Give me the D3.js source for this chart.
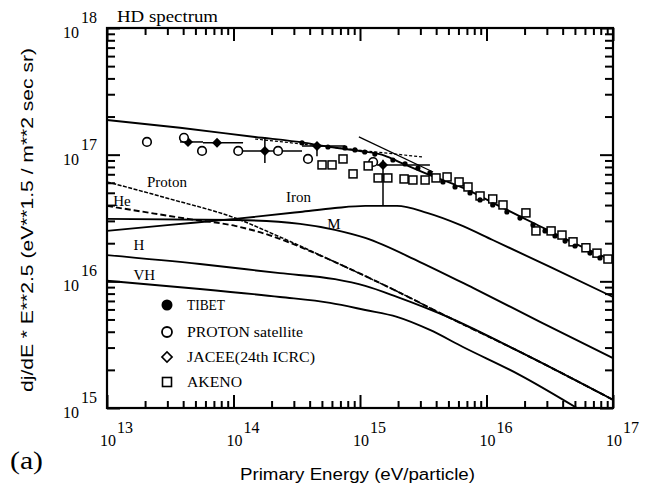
<!DOCTYPE html>
<html><head><meta charset="utf-8">
<script src="https://cdn.jsdelivr.net/npm/d3@7"></script>
<style>body{margin:0;background:#fff}svg{display:block}</style>
</head><body>
<svg id="c" width="656" height="493" xmlns="http://www.w3.org/2000/svg"></svg>
<script>
// ---------- data ----------
const xMajor = [1e13, 1e14, 1e15, 1e16, 1e17];
const xMajorExp = ["13", "14", "15", "16", "17"];
const yMajor = [1e15, 1e16, 1e17, 1e18];
const yMajorExp = ["15", "16", "17", "18"];

const totalE = [1e13, 3.78e13, 1.48e14, 3.67e14, 5.8e14, 1e15, 1.58e15, 2.07e15, 3.57e15, 7.0e15, 1.28e16, 2.33e16, 4.57e16, 1e17];
const totalJ = [1.88e17, 1.63e17, 1.38e17, 1.24e17, 1.15e17, 1.07e17, 9.8e16, 8.7e16, 6.9e16, 5.3e16, 3.9e16, 2.9e16, 2.08e16, 1.45e16];

const protonE = [1e13, 3.15e13, 1.03e14, 2.33e14, 6.34e14, 1.73e15, 5.14e15, 1.84e16, 1e17];
const protonJ = [6.1e16, 4.47e16, 3.16e16, 2.24e16, 1.42e16, 8.87e15, 5.14e15, 2.77e15, 1.16e15];

const heE = [1e13, 2.19e13, 4.37e13, 1.03e14, 2.01e14, 3.36e14, 6.34e14, 1.73e15, 5.14e15, 1.84e16, 1e17];
const heJ = [3.94e16, 3.47e16, 3.11e16, 2.74e16, 2.28e16, 1.87e16, 1.42e16, 8.87e15, 5.14e15, 2.77e15, 1.16e15];

const mE = [1e13, 1.03e14, 3.36e14, 6.34e14, 1.10e15, 2.98e15, 7.82e15, 2.65e16, 1e17];
const mJ = [3.11e16, 3.05e16, 2.84e16, 2.55e16, 2.20e16, 1.42e16, 8.87e15, 4.79e15, 2.48e15];

const ironE = [1e13, 3.15e13, 1.03e14, 3.36e14, 6.34e14, 1.10e15, 1.96e15, 3.39e15, 6.18e15, 1.12e16, 3.18e16, 1e17];
const ironJ = [2.50e16, 2.79e16, 3.11e16, 3.53e16, 3.79e16, 3.94e16, 3.94e16, 3.47e16, 2.79e16, 2.12e16, 1.30e16, 7.53e15];

const hE = [1e13, 5.43e13, 2.33e14, 6.34e14, 1.10e15, 1.96e15, 5.14e15, 1.84e16, 1e17];
const hJ = [1.61e16, 1.37e16, 1.16e16, 1.04e16, 9.2e15, 7.53e15, 5.14e15, 2.77e15, 1.16e15];

const vhE = [1e13, 5.43e13, 2.33e14, 5.8e14, 1.10e15, 1.96e15, 3.57e15, 6.52e15, 1.84e16, 5.19e16];
const vhJ = [1.01e16, 8.71e15, 7.53e15, 6.76e15, 5.94e15, 5.24e15, 4.13e15, 3.03e15, 1.82e15, 1.0e15];

const fitSteepE = [9.8e14, 3.78e15];
const fitSteepJ = [1.38e17, 7.3e16];
const fitFlatE = [1.48e14, 3.09e15];
const fitFlatJ = [1.33e17, 9.6e16];

// filled diamonds with energy bins
const jaceeE   = [4.37e13, 7.41e13, 1.77e14, 4.57e14, 1.52e15];
const jaceeJ   = [1.26e17, 1.24e17, 1.07e17, 1.17e17, 8.3e16];
const jaceeElo = [3.78e13, 5.74e13, 1.09e14, 3.48e14, 1.36e15];
const jaceeEhi = [5.74e13, 1.19e14, 3.48e14, 7.60e14, 3.57e15];
const jaceeJlo = [null, null, 8.6e16, 9.7e16, 3.94e16];
const jaceeJhi = [null, null, 1.38e17, 1.26e17, 9.1e16];

const protonSatE = [2.07e13, 4.06e13, 5.64e13, 1.09e14, 2.25e14, 3.88e14, 1.27e15];
const protonSatJ = [1.26e17, 1.36e17, 1.07e17, 1.07e17, 1.07e17, 9.25e16, 8.75e16];

const akenoE = [5.01e14, 6.01e14, 7.34e14, 8.81e14, 1.16e15, 1.39e15, 1.66e15, 2.23e15, 2.62e15, 3.27e15, 3.99e15, 4.88e15, 6.07e15, 7.14e15, 8.89e15, 1.12e16, 1.35e16, 2.05e16, 2.46e16, 3.24e16, 3.95e16, 4.83e16, 6.11e16, 7.47e16, 9.12e16];
const akenoJ = [8.30e16, 8.30e16, 9.25e16, 7.05e16, 8.15e16, 6.55e16, 6.55e16, 6.43e16, 6.31e16, 6.31e16, 6.55e16, 6.67e16, 6.09e16, 5.56e16, 4.72e16, 4.47e16, 4.01e16, 3.47e16, 2.50e16, 2.50e16, 2.32e16, 2.05e16, 1.84e16, 1.67e16, 1.50e16];

const tibetE = [3.48e14, 5.58e14, 7.60e14, 9.12e14, 1.09e15, 1.31e15, 1.82e15, 2.27e15, 2.87e15, 3.57e15, 4.53e15, 5.64e15, 7.41e15, 8.89e15, 1.12e16, 1.45e16, 1.84e16, 2.33e16, 2.90e16, 3.48e16, 4.18e16, 5.01e16, 6.58e16, 7.89e16];
const tibetJ = [1.24e17, 1.15e17, 1.13e17, 1.09e17, 1.05e17, 1.01e17, 9.08e16, 8.45e16, 7.85e16, 7.18e16, 6.09e16, 5.56e16, 4.99e16, 4.39e16, 4.01e16, 3.53e16, 3.16e16, 2.79e16, 2.50e16, 2.28e16, 2.08e16, 1.90e16, 1.67e16, 1.53e16];

const legendLabels = ["TIBET", "PROTON satellite", "JACEE(24th ICRC)", "AKENO"];
const curveLabels = [
  {t: "Proton", E: 2.07e13, J: 5.55e16},
  {t: "He", E: 1.12e13, J: 3.94e16},
  {t: "Iron", E: 2.6e14, J: 4.2e16},
  {t: "M", E: 5.5e14, J: 2.6e16},
  {t: "H", E: 1.62e13, J: 1.76e16},
  {t: "VH", E: 1.62e13, J: 1.03e16}
];

// ---------- layout ----------
const L = 107, T = 28, W = 506, H = 380;
const serif = "'Liberation Serif', 'Times New Roman', serif";
const sans = "'Liberation Sans', Arial, sans-serif";

const svg = d3.select("#c");
const xs = d3.scaleLog().domain([1e13, 1e17]).range([L, L + W]);
const ys = d3.scaleLog().domain([1e15, 1e18]).range([T + H, T]);

// ---------- inward ticks via d3 axes (major long, minor short) ----------
const xMinor = xs.ticks().filter(v => xMajor.indexOf(v) < 0);
const yMinor = ys.ticks().filter(v => yMajor.indexOf(v) < 0);
function axisLayer(gen, tr, vals, size) {
  const g = svg.append("g").attr("transform", tr);
  g.call(gen.tickValues(vals).tickSizeInner(-size).tickSizeOuter(0).tickPadding(0).tickFormat(() => ""));
  g.select(".domain").remove();
  g.selectAll(".tick line").attr("stroke", "#000").attr("stroke-width", 2);
}
axisLayer(d3.axisBottom(xs), `translate(0,${T + H})`, xMajor, 13);
axisLayer(d3.axisBottom(xs), `translate(0,${T + H})`, xMinor, 7);
axisLayer(d3.axisTop(xs), `translate(0,${T})`, xMajor, 13);
axisLayer(d3.axisTop(xs), `translate(0,${T})`, xMinor, 7);
axisLayer(d3.axisLeft(ys), `translate(${L},0)`, yMajor, 13);
axisLayer(d3.axisLeft(ys), `translate(${L},0)`, yMinor, 8);
axisLayer(d3.axisRight(ys), `translate(${L + W},0)`, yMajor, 13);
axisLayer(d3.axisRight(ys), `translate(${L + W},0)`, yMinor, 8);

svg.append("rect").attr("x", L).attr("y", T).attr("width", W).attr("height", H)
  .attr("fill", "none").attr("stroke", "#000").attr("stroke-width", 2.2);

// ---------- curves ----------
const plot = svg.append("g");
const lineGen = d3.line().x(d => xs(d[0])).y(d => Math.min(ys(d[1]), T + H)).curve(d3.curveMonotoneX);
function curve(E, J, w, dash) {
  plot.append("path").attr("d", lineGen(E.map((e, i) => [e, J[i]])))
    .attr("fill", "none").attr("stroke", "#000").attr("stroke-width", w)
    .attr("stroke-dasharray", dash || null);
}
curve(totalE, totalJ, 1.9);
curve(hE, hJ, 1.9);
curve(vhE, vhJ, 1.9);
curve(mE, mJ, 1.9);
curve(ironE, ironJ, 1.9);
curve(protonE, protonJ, 1.5, "4,1.5");
curve(heE, heJ, 1.9, "6,3");
curve(fitSteepE, fitSteepJ, 1.3);
curve(fitFlatE, fitFlatJ, 1.2, "3,2");

// ---------- points ----------
jaceeE.forEach((e, i) => {
  plot.append("line").attr("x1", xs(jaceeElo[i])).attr("x2", xs(jaceeEhi[i]))
    .attr("y1", ys(jaceeJ[i])).attr("y2", ys(jaceeJ[i])).attr("stroke", "#000").attr("stroke-width", 1.5);
  if (jaceeJlo[i]) plot.append("line").attr("x1", xs(e)).attr("x2", xs(e))
    .attr("y1", ys(jaceeJlo[i])).attr("y2", ys(jaceeJhi[i])).attr("stroke", "#000").attr("stroke-width", 1.5);
});
const diamondGen = d3.symbol().type(d3.symbolSquare).size(50);
plot.selectAll(".jd").data(jaceeE).join("path")
  .attr("transform", (e, i) => `translate(${xs(e)},${ys(jaceeJ[i])}) rotate(45)`)
  .attr("d", diamondGen()).attr("fill", "#000");

plot.selectAll(".ps").data(protonSatE).join("circle")
  .attr("cx", e => xs(e)).attr("cy", (e, i) => ys(protonSatJ[i])).attr("r", 4.3)
  .attr("fill", "#fff").attr("stroke", "#000").attr("stroke-width", 1.6);

plot.selectAll(".ak").data(akenoE).join("rect")
  .attr("x", e => xs(e) - 4).attr("y", (e, i) => ys(akenoJ[i]) - 4).attr("width", 8).attr("height", 8)
  .attr("fill", "#fff").attr("stroke", "#000").attr("stroke-width", 1.5);

plot.selectAll(".tb").data(tibetE).join("circle")
  .attr("cx", e => xs(e)).attr("cy", (e, i) => ys(tibetJ[i])).attr("r", 2.6)
  .attr("fill", "#000");

// curve labels
curveLabels.forEach(d => {
  svg.append("text").attr("x", xs(d.E)).attr("y", ys(d.J))
    .attr("font-family", serif).attr("font-size", 15).text(d.t);
});

// ---------- legend ----------
const lx = 167, ly = [305, 332, 357, 382];
svg.append("circle").attr("cx", lx).attr("cy", ly[0]).attr("r", 5.5).attr("fill", "#000");
svg.append("circle").attr("cx", lx).attr("cy", ly[1]).attr("r", 5).attr("fill", "#fff")
  .attr("stroke", "#000").attr("stroke-width", 1.8);
svg.append("path").attr("transform", `translate(${lx},${ly[2]}) rotate(45)`)
  .attr("d", d3.symbol().type(d3.symbolSquare).size(52)()).attr("fill", "#fff")
  .attr("stroke", "#000").attr("stroke-width", 1.6);
svg.append("rect").attr("x", lx - 4.5).attr("y", ly[3] - 4.5).attr("width", 9).attr("height", 9)
  .attr("fill", "#fff").attr("stroke", "#000").attr("stroke-width", 1.6);
const legendW = [38, 116, 128, 55];
legendLabels.forEach((t, i) => {
  svg.append("text").attr("x", 187).attr("y", ly[i] + 5).attr("font-family", serif)
    .attr("font-size", 15).attr("textLength", legendW[i]).attr("lengthAdjust", "spacingAndGlyphs").text(t);
});

// tick labels
xMajor.forEach((v, i) => {
  svg.append("text").attr("x", xs(v) + 1).attr("y", 446).attr("text-anchor", "middle")
    .attr("font-family", serif).attr("font-size", 16).text("10");
  svg.append("text").attr("x", xs(v) + 10).attr("y", 433)
    .attr("font-family", serif).attr("font-size", 16).text(xMajorExp[i]);
});
yMajor.forEach((v, i) => {
  svg.append("text").attr("x", 79).attr("y", ys(v) + 10).attr("text-anchor", "end")
    .attr("font-family", serif).attr("font-size", 16).text("10");
  svg.append("text").attr("x", 81).attr("y", ys(v) - 5)
    .attr("font-family", serif).attr("font-size", 16).text(yMajorExp[i]);
});

// titles
svg.append("text").attr("x", 117).attr("y", 22).attr("font-family", serif).attr("font-size", 16)
  .attr("textLength", 101).attr("lengthAdjust", "spacingAndGlyphs").text("HD spectrum");
svg.append("text").attr("x", 240).attr("y", 480).attr("font-family", sans).attr("font-size", 16)
  .attr("textLength", 235).attr("lengthAdjust", "spacingAndGlyphs").text("Primary Energy (eV/particle)");
svg.append("text").attr("transform", "translate(33,392) rotate(-90)")
  .attr("font-family", sans).attr("font-size", 16)
  .attr("textLength", 344).attr("lengthAdjust", "spacingAndGlyphs")
  .text("dj/dE * E**2.5 (eV**1.5 / m**2 sec sr)");
svg.append("text").attr("x", 10).attr("y", 469).attr("font-family", serif).attr("font-size", 25)
  .attr("textLength", 33).attr("lengthAdjust", "spacingAndGlyphs").text("(a)");
</script>
</body></html>
